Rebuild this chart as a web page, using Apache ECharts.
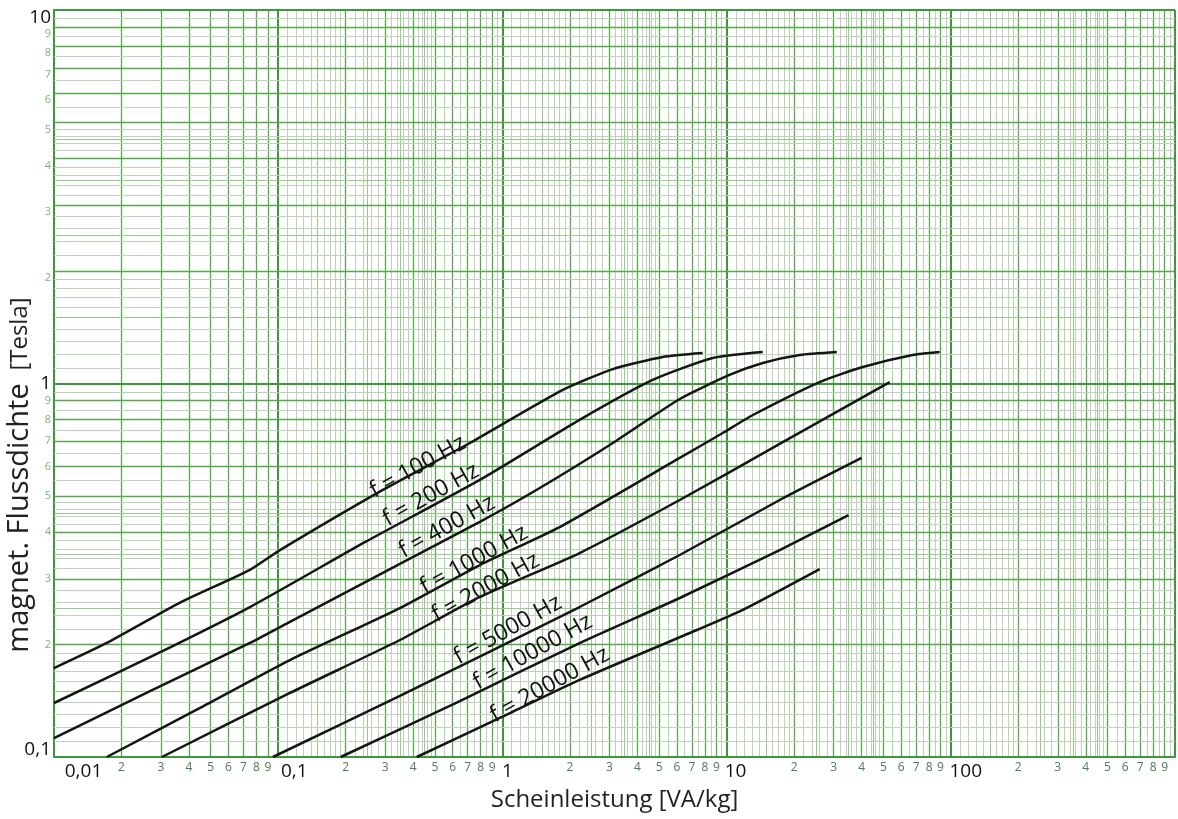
<!DOCTYPE html>
<html><head><meta charset="utf-8">
<script src="https://cdn.jsdelivr.net/npm/echarts@6.0.0/dist/echarts.min.js"></script>
<style>html,body{margin:0;padding:0;background:#fff}#c{width:1178px;height:819px}</style>
</head><body><div id="c"></div>
<script>
// ---- data ----
const curveNames = ['f = 100 Hz','f = 200 Hz','f = 400 Hz','f = 1000 Hz','f = 2000 Hz','f = 5000 Hz','f = 10000 Hz','f = 20000 Hz'];
const f100   = [[0.01,0.173],[0.0172,0.202],[0.0365,0.259],[0.0748,0.317],[0.1018,0.358],[0.293,0.519],[0.716,0.693],[1.86,0.961],[3.11,1.093],[5.19,1.178],[7.82,1.207]];
const f200   = [[0.01,0.1395],[0.0268,0.185],[0.0748,0.252],[0.2435,0.376],[0.793,0.552],[2.21,0.799],[4.68,1.022],[8.67,1.17],[14.5,1.214]];
const f400   = [[0.01,0.1124],[0.0268,0.150],[0.0748,0.202],[0.1128,0.230],[0.349,0.329],[0.793,0.426],[1.468,0.525],[3.11,0.693],[6.18,0.909],[10.3,1.054],[14.5,1.135],[21.2,1.192],[31.0,1.214]];
const f1000  = [[0.0172,0.1],[0.0448,0.1353],[0.1128,0.1818],[0.349,0.2505],[0.793,0.3266],[1.80,0.4127],[6.18,0.632],[9.61,0.737],[13.1,0.8235],[26.0,1.009],[40.5,1.107],[67.6,1.192],[89.2,1.214]];
const f2000  = [[0.0303,0.1],[0.1128,0.1484],[0.349,0.2057],[0.793,0.2682],[2.21,0.3517],[6.18,0.4876],[17.25,0.689],[53.4,1.009]];
const f5000  = [[0.0947,0.1],[0.349,0.1457],[2.21,0.2521],[6.18,0.3474],[17.25,0.4876],[40.0,0.632]];
const f10000 = [[0.190,0.1],[0.646,0.1412],[2.21,0.2019],[6.18,0.2665],[17.25,0.3582],[35.0,0.4445]];
const f20000 = [[0.415,0.1],[0.974,0.1272],[2.21,0.1608],[7.36,0.2188],[12.0,0.249],[26.0,0.3186]];
const curveLabelAt = [[0.4195,0.598],[0.48,0.503],[0.565,0.413],[0.746,0.337],[0.843,0.284],[1.057,0.219],[1.366,0.191],[1.627,0.156]];

// tick labels
const xDecades = [0.01,0.1,1,10,100];
const xDecadeLabels = ['0,01','0,1','1','10','100'];
const yDecades = [0.1,1,10];
const yDecadeLabels = ['0,1','1','10'];
const mantissas = [1,2,3,4,5,6,7,8,9];

// grid-paper subdivisions (mantissa positions within a decade)
const gridFine = [1.1,1.2,1.3,1.4,1.6,1.7,1.8,1.9,2.2,2.4,2.6,2.8,3.2,3.4,3.6,3.8,4.2,4.4,4.6,4.8,5.5,6.5,7.5,8.5,9.5];
const gridHalf = [1.5,2.5,3.5,4.5];
const gridInt = [2,3,4,5,6,7,8,9];

const curves = [f100,f200,f400,f1000,f2000,f5000,f10000,f20000];

function ticksFrom(decades){ const a=[]; decades.forEach(d=>mantissas.forEach(m=>a.push(+(d*m).toPrecision(6)))); return a; }
const xTicks = ticksFrom(xDecades);
const yTicks = ticksFrom(yDecades).concat([10]);

function expo(v){ return Math.floor(Math.log10(v)+1e-9); }
function mant(v){ return Math.round(v/Math.pow(10,expo(v))); }

const FONT = 'Open Sans';
const lineStyles = {
  fine:  {color:'#bfd0bb', width:1, type:'solid'},
  half:  {color:'#97c98a', width:1, type:'solid'},
  int:   {color:'#57a94b', width:1.3, type:'solid'},
  dec:   {color:'#3b983b', width:2, type:'solid'}
};
function gridLines(axisKey, decades, lastDecade){
  const out = [];
  decades.forEach(d=>{
    gridFine.forEach(m=>out.push({[axisKey]:+(d*m).toPrecision(6), lineStyle:lineStyles.fine}));
    gridHalf.forEach(m=>out.push({[axisKey]:+(d*m).toPrecision(6), lineStyle:lineStyles.half}));
    gridInt.forEach(m=>out.push({[axisKey]:+(d*m).toPrecision(6), lineStyle:lineStyles.int}));
  });
  decades.concat([lastDecade]).forEach(d=>out.push({[axisKey]:d, lineStyle:lineStyles.dec}));
  return out;
}
const gridData = gridLines('xAxis', xDecades, 1000).concat(gridLines('yAxis', yDecades, 10));

const chart = echarts.init(document.getElementById('c'), null, {renderer:'canvas'});
const series = [{
  type:'line', data:[], z:1, silent:true,
  markLine:{ silent:true, symbol:['none','none'], label:{show:false}, animation:false, data:gridData }
}];
curves.forEach((c,i)=>{
  series.push({
    type:'line', name:curveNames[i], data:c, z:5, showSymbol:false, symbol:'none',
    smooth:0.2,
    lineStyle:{color:'#151515', width:2.5},
    markPoint:{
      symbol:'circle', symbolSize:1, itemStyle:{color:'rgba(0,0,0,0)'},
      data:[{coord:curveLabelAt[i], name:curveNames[i]}],
      label:{show:true, position:'inside', formatter:'{b}', rotate:29, fontSize:23, fontFamily:FONT, color:'#111'}
    }
  });
});

const option = {
  animation:false,
  backgroundColor:'#ffffff',
  grid:{left:54, right:3, top:10, bottom:62, containLabel:false},
  xAxis:{
    type:'log', logBase:10, min:0.01, max:1000,
    name:'Scheinleistung [VA/kg]', nameLocation:'middle', nameGap:31,
    nameTextStyle:{fontSize:24, color:'#222', fontFamily:FONT},
    axisLine:{show:true, onZero:false, lineStyle:{color:'#3b983b', width:2}},
    axisTick:{show:false},
    splitLine:{show:false}, minorTick:{show:false}, minorSplitLine:{show:false},
    axisLabel:{
      customValues:xTicks, margin:5, hideOverlap:false,
      formatter:function(v){ const e=expo(v), m=mant(v); if(m===1){ const i=e+2; return '{d'+i+'|'+xDecadeLabels[i]+'}'; } return '{s|'+m+'}'; },
      rich:{
        s:{fontSize:12, color:'#4f7a55', fontFamily:FONT},
        d0:{fontSize:19, color:'#111', fontFamily:FONT, padding:[0,0,0,59]},
        d1:{fontSize:19, color:'#111', fontFamily:FONT, padding:[0,0,0,32]},
        d2:{fontSize:19, color:'#111', fontFamily:FONT, padding:[0,0,0,10]},
        d3:{fontSize:19, color:'#111', fontFamily:FONT, padding:[0,0,0,18]},
        d4:{fontSize:19, color:'#111', fontFamily:FONT, padding:[0,0,0,30]}
      }
    }
  },
  yAxis:{
    type:'log', logBase:10, min:0.1, max:10,
    axisLine:{show:true, onZero:false, lineStyle:{color:'#3b983b', width:2}},
    axisTick:{show:false},
    splitLine:{show:false}, minorTick:{show:false}, minorSplitLine:{show:false},
    axisLabel:{
      customValues:yTicks, margin:3, hideOverlap:false,
      formatter:function(v){ const e=expo(v), m=mant(v);
        if(m===1){ const i=e+1; return '{D'+i+'|'+yDecadeLabels[i]+'}'; }
        return (e>=0 ? '{su|'+m+'}' : '{s|'+m+'}'); },
      rich:{
        s:{fontSize:11, color:'#7fb07f', fontFamily:FONT},
        su:{fontSize:11, color:'#7fb07f', fontFamily:FONT, padding:[14,0,0,0]},
        D0:{fontSize:19, color:'#111', fontFamily:FONT, padding:[0,0,14,0]},
        D1:{fontSize:19, color:'#111', fontFamily:FONT},
        D2:{fontSize:19, color:'#111', fontFamily:FONT, padding:[16,0,0,0]}
      }
    }
  },
  graphic:[
    {type:'text', x:20, y:518, rotation:Math.PI/2, z:10,
     style:{text:'magnet. Flussdichte', fontSize:29, fontFamily:FONT, fill:'#222', align:'center', verticalAlign:'middle'}},
    {type:'text', x:20, y:334, rotation:Math.PI/2, z:10,
     style:{text:'[Tesla]', fontSize:24, fontFamily:FONT, fill:'#222', align:'center', verticalAlign:'middle'}}
  ],
  series:series
};
chart.setOption(option);
</script>
</body></html>
